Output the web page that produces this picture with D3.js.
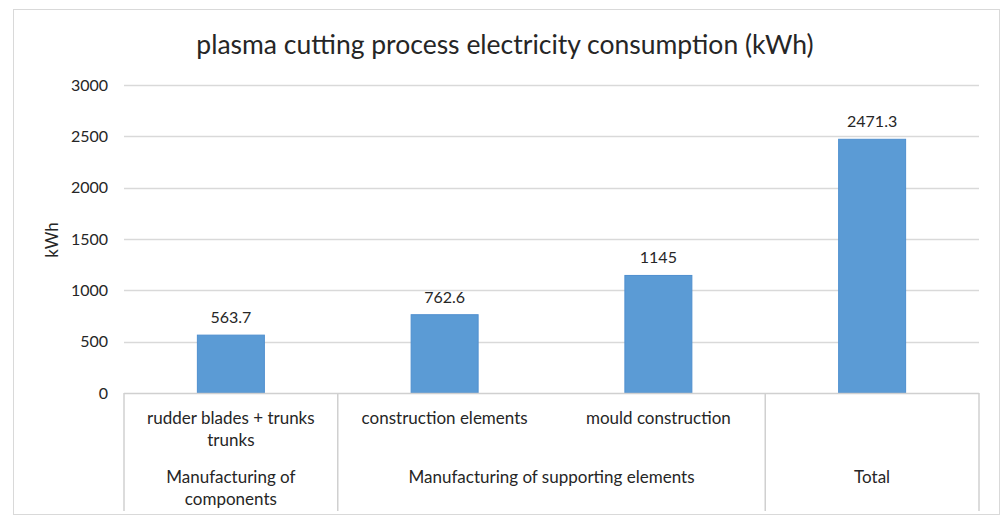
<!DOCTYPE html>
<html>
<head>
<meta charset="utf-8">
<script src="https://cdn.jsdelivr.net/npm/d3@7"></script>
<style>
  html, body { margin: 0; padding: 0; background: #fff; }
  svg { display: block; }
  text { font-family: Lato, "Open Sans", sans-serif; fill: #262626; }
</style>
</head>
<body>
<svg id="chart" width="1001" height="517"></svg>
<script>
// ---- data ----
const categories = ["rudder blades + trunks|trunks", "construction elements", "mould construction", ""];
const values = [563.7, 762.6, 1145, 2471.3];
const groups = ["Manufacturing of|components", "Manufacturing of supporting elements", "Total"];
const groupSizes = [1, 2, 1];
const yTicks = [0, 500, 1000, 1500, 2000, 2500, 3000];
const title = "plasma cutting process electricity consumption (kWh)";
const yTitle = "kWh";

// ---- layout ----
const W = 1001, H = 517;
const plot = { left: 124, right: 979, top: 85, bottom: 393 };
const svg = d3.select("#chart");

// outer frame
svg.append("rect").attr("x", 13.5).attr("y", 9.5).attr("width", 986).attr("height", 505)
  .attr("fill", "#fff").attr("stroke", "#d9d9d9").attr("stroke-width", 1);

const idx = categories.map((d, i) => i);
const x = d3.scaleBand().domain(idx).range([plot.left, plot.right])
  .paddingInner(0.6866).paddingOuter(0.3433);
const y = d3.scaleLinear().domain([0, 3000]).range([plot.bottom, plot.top]);
const step = x.step();
const catLeft = i => plot.left + i * step;

// gridlines
svg.append("g").selectAll("line").data(yTicks.filter(t => t > 0)).join("line")
  .attr("x1", plot.left).attr("x2", plot.right)
  .attr("y1", d => Math.round(y(d)) + 0.5).attr("y2", d => Math.round(y(d)) + 0.5)
  .attr("stroke", "#d9d9d9").attr("stroke-width", 1.3);

// y axis labels
const yAxis = d3.axisLeft(y).tickValues(yTicks).tickFormat(d3.format("d")).tickSize(0).tickPadding(16);
const yg = svg.append("g").attr("transform", `translate(${plot.left},0)`).call(yAxis);
yg.select(".domain").remove();
yg.selectAll("text").style("font-size", "16px").style("font-family", "Lato, sans-serif").attr("fill", "#262626");

// y title
svg.append("text").attr("transform", "translate(58,240) rotate(-90)")
  .attr("text-anchor", "middle").style("font-size", "17px").text(yTitle);

// bars
svg.append("g").selectAll("rect").data(values).join("rect")
  .attr("x", (d, i) => x(i)).attr("width", x.bandwidth())
  .attr("y", d => y(d)).attr("height", d => y(0) - y(d))
  .attr("fill", "#5b9bd5").attr("stroke", "#4f8fcf").attr("stroke-width", 1);

// data labels
svg.append("g").selectAll("text").data(values).join("text")
  .attr("x", (d, i) => x(i) + x.bandwidth() / 2).attr("y", d => y(d) - 12)
  .attr("text-anchor", "middle").style("font-size", "16px").text(d => d3.format("")(d));

// category axis line
svg.append("line").attr("x1", plot.left).attr("x2", plot.right)
  .attr("y1", plot.bottom + 0.5).attr("y2", plot.bottom + 0.5)
  .attr("stroke", "#d0d0d0").attr("stroke-width", 1.5);

// group boundaries
let acc = 0;
const bounds = [0];
groupSizes.forEach(s => { acc += s; bounds.push(acc); });
svg.append("g").selectAll("line").data(bounds).join("line")
  .attr("x1", d => catLeft(d)).attr("x2", d => catLeft(d))
  .attr("y1", plot.bottom).attr("y2", 511)
  .attr("stroke", "#d0d0d0").attr("stroke-width", 1.5);

// level-1 labels
const lineH = 22;
categories.forEach((c, i) => {
  const t = svg.append("text").attr("text-anchor", "middle").style("font-size", "17px")
    .attr("x", catLeft(i) + step / 2).attr("y", 424);
  c.split("|").forEach((s, k) => t.append("tspan").attr("x", catLeft(i) + step / 2).attr("dy", k ? lineH : 0).text(s));
});

// level-2 labels
groups.forEach((g, j) => {
  const cx = (catLeft(bounds[j]) + catLeft(bounds[j + 1])) / 2;
  const t = svg.append("text").attr("text-anchor", "middle").style("font-size", "17px")
    .attr("x", cx).attr("y", 483);
  g.split("|").forEach((s, k) => t.append("tspan").attr("x", cx).attr("dy", k ? lineH : 0).text(s));
});

// title
svg.append("text").attr("x", 505).attr("y", 54).attr("text-anchor", "middle")
  .style("font-size", "26.5px").attr("fill", "#1a1a1a").text(title);
</script>
</body>
</html>
